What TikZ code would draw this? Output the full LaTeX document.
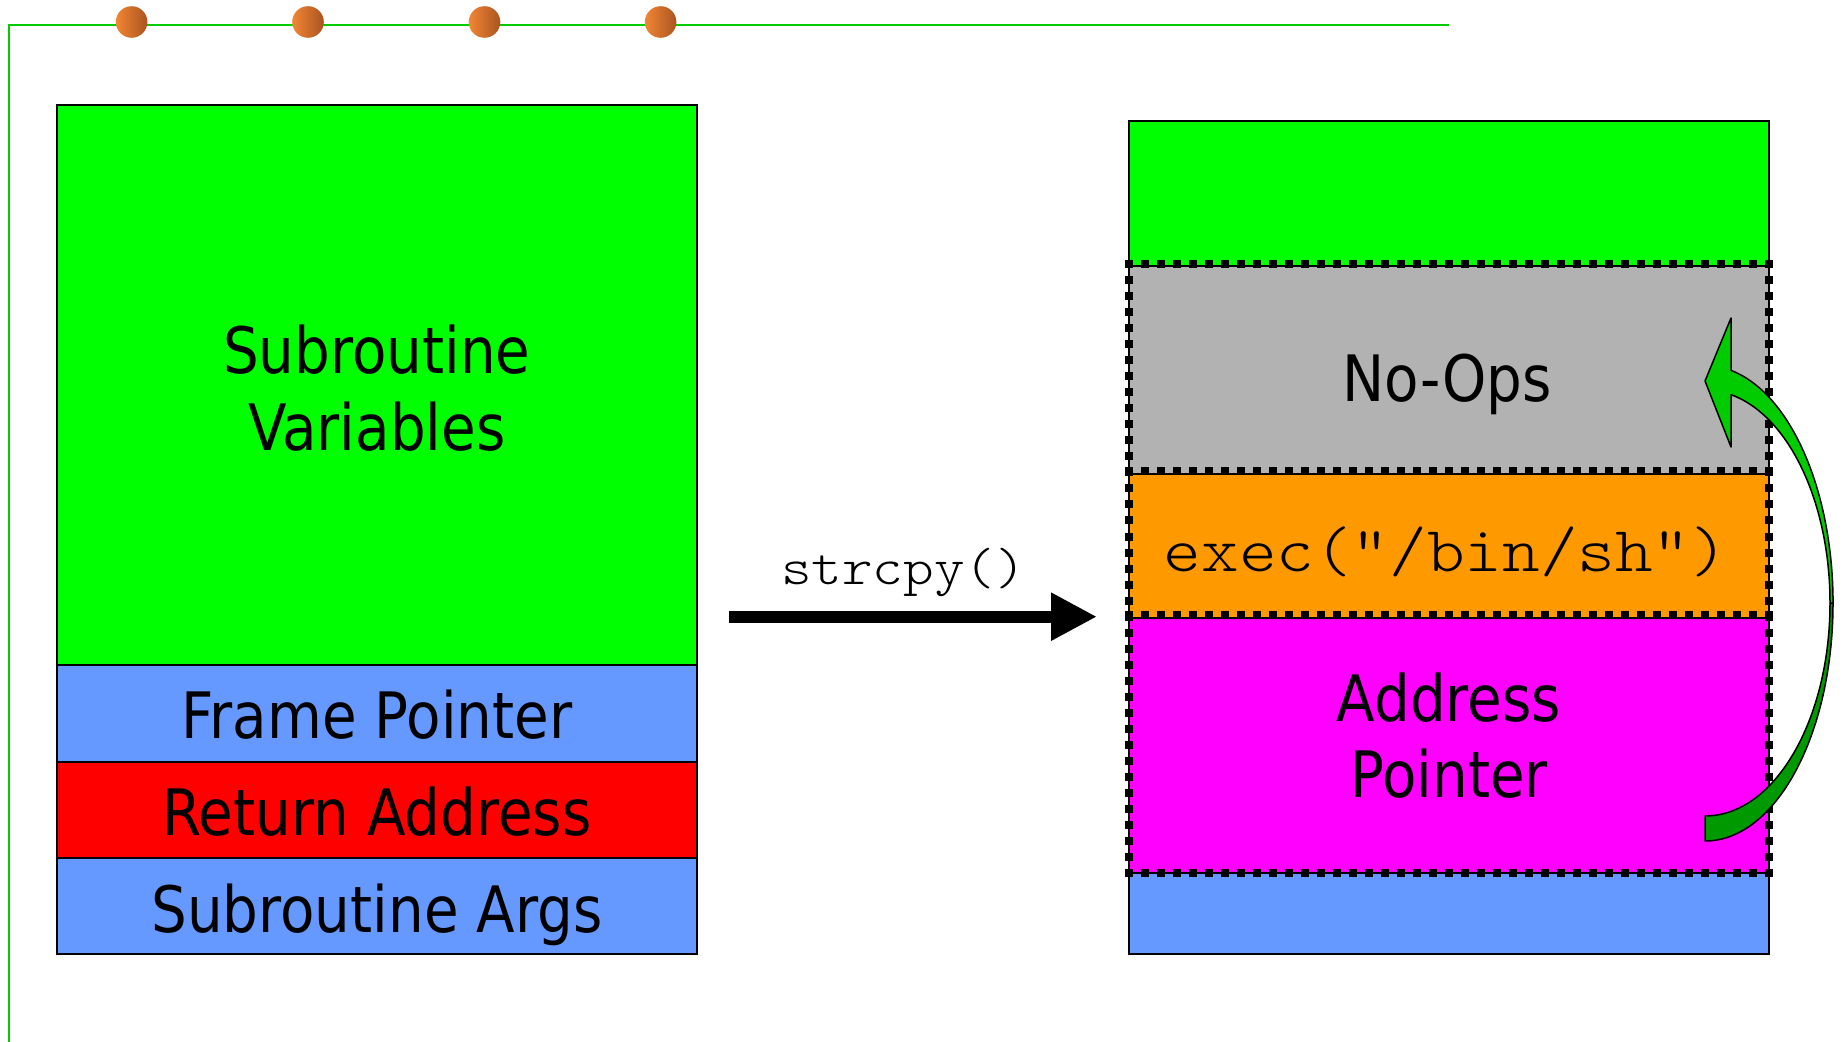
\documentclass[tikz,border=0pt]{standalone}
\usepackage{fontspec}
\usetikzlibrary{arrows.meta}
\newfontfamily\boxfont[FakeStretch=0.88]{DejaVu Sans}
\newfontfamily\codefont[FakeStretch=1.12]{lmmonolt10-regular.otf}

\definecolor{stackgreen}{HTML}{00FF00}
\definecolor{stackblue}{HTML}{6699FF}
\definecolor{stackred}{HTML}{FF0000}
\definecolor{nopgray}{HTML}{B2B2B2}
\definecolor{shellorange}{HTML}{FF9900}
\definecolor{addrmagenta}{HTML}{FF00FF}
\definecolor{rulegreen}{HTML}{00CC00}
\definecolor{jumpfront}{HTML}{00CC00}
\definecolor{jumpback}{HTML}{009A00}
\definecolor{beadlight}{HTML}{F28634}
\definecolor{beaddark}{HTML}{AA5420}

\begin{document}
\begin{tikzpicture}[x=0.5pt, y=-0.5pt,
  cell/.style={draw=black, line width=1pt},
  lbl/.style={font={\boxfont\fontsize{32}{38}\selectfont}, anchor=base, inner sep=0pt},
  code/.style={font={\codefont\fontsize{32}{38}\selectfont}, anchor=base, inner sep=0pt},
  callcode/.style={font={\codefont\fontsize{26}{30}\selectfont}, anchor=base, inner sep=0pt},
  bead/.style={left color=beadlight, right color=beaddark, draw=none},
  jump/.style={draw=black, line width=0.75pt, line join=round}]

\useasboundingbox (0,0) rectangle (1843,1042);

% slide rule and beads
\draw[rulegreen, line width=0.85pt] (1449,25) -- (8.7,25) -- (8.7,1042);
\foreach \bx in {131.6,308,484.5,660.6}
  \shade[bead] (\bx,22) circle[radius=7.9pt];

% original stack frame
\path[cell, fill=stackgreen] (56.5,104.6) rectangle (697,665.3);
\path[cell, fill=stackblue]  (56.5,665.3) rectangle (697,761.7);
\path[cell, fill=stackred]   (56.5,761.7) rectangle (697,858);
\path[cell, fill=stackblue]  (56.5,858)   rectangle (697,954.4);

\node[lbl] (varsA) at (376.8,373.8) {Subroutine};
\node[lbl] (varsB) at (376.8,451)   {Variables};
\node[lbl] (fp)    at (376.8,739)   {Frame Pointer};
\node[lbl] (ret)   at (376.8,835.7) {Return Address};
\node[lbl] (args)  at (376.8,932)   {Subroutine Args};

% overflowed stack frame
\path[cell, fill=stackgreen]  (1128.5,121)   rectangle (1769,265.6);
\path[cell, fill=nopgray]     (1128.5,265.6) rectangle (1769,474.5);
\path[cell, fill=shellorange] (1128.5,474.5) rectangle (1769,618);
\path[cell, fill=addrmagenta] (1128.5,618)   rectangle (1769,873);
\path[cell, fill=stackblue]   (1128.5,873)   rectangle (1769,954.4);

% square-dotted outline of the injected payload
\foreach \i in {0,...,40} {
  \fill ({1129+16*\i-4},{264-4})   rectangle ({1129+16*\i+4},{264+4});
  \fill ({1129+16*\i-4},{471.5-4}) rectangle ({1129+16*\i+4},{471.5+4});
  \fill ({1129+16*\i-4},{615-4})   rectangle ({1129+16*\i+4},{615+4});
  \fill ({1129+16*\i-4},{873-4})   rectangle ({1129+16*\i+4},{873+4});
}
\foreach \j in {0,...,38} {
  \fill ({1129-4},{264+16.03*\j-4}) rectangle ({1129+4},{264+16.03*\j+4});
  \fill ({1769-4},{264+16.03*\j-4}) rectangle ({1769+4},{264+16.03*\j+4});
}

\node[lbl]  (nops)  at (1447,402)   {No-Ops};
\node[code] (shell) at (1446,572)   {exec("/bin/sh")};
\node[lbl]  (addrA) at (1449,722)   {Address};
\node[lbl]  (addrB) at (1449,797.5) {Pointer};

% the copy step
\coordinate (cpyFrom) at (729,616.7);
\coordinate (cpyTo)   at (1097,616.7);
\draw[line width=6pt, -{Triangle[length=23pt, width=22.5pt]}] (cpyFrom) -- (cpyTo);
\node[callcode] (cpy) at (903.5,585) {strcpy()};

% jump from the overwritten pointer back into the no-op sled
\path[jump, fill=jumpback] (1833,603)
  arc[start angle=0, end angle=-90, x radius=64pt, y radius=119pt]
  -- (1705,816)
  arc[start angle=-90, end angle=0, x radius=62.5pt, y radius=106.5pt]
  -- cycle;
\path[jump, fill=jumpfront] (1731,370.4)
  arc[start angle=78.3, end angle=0, x radius=64pt, y radius=119pt]
  -- (1830,603)
  arc[start angle=0, end angle=78, x radius=62.5pt, y radius=106.5pt]
  -- (1731,447) -- (1705,381) -- (1731,318) -- cycle;
\end{tikzpicture}
\end{document}
